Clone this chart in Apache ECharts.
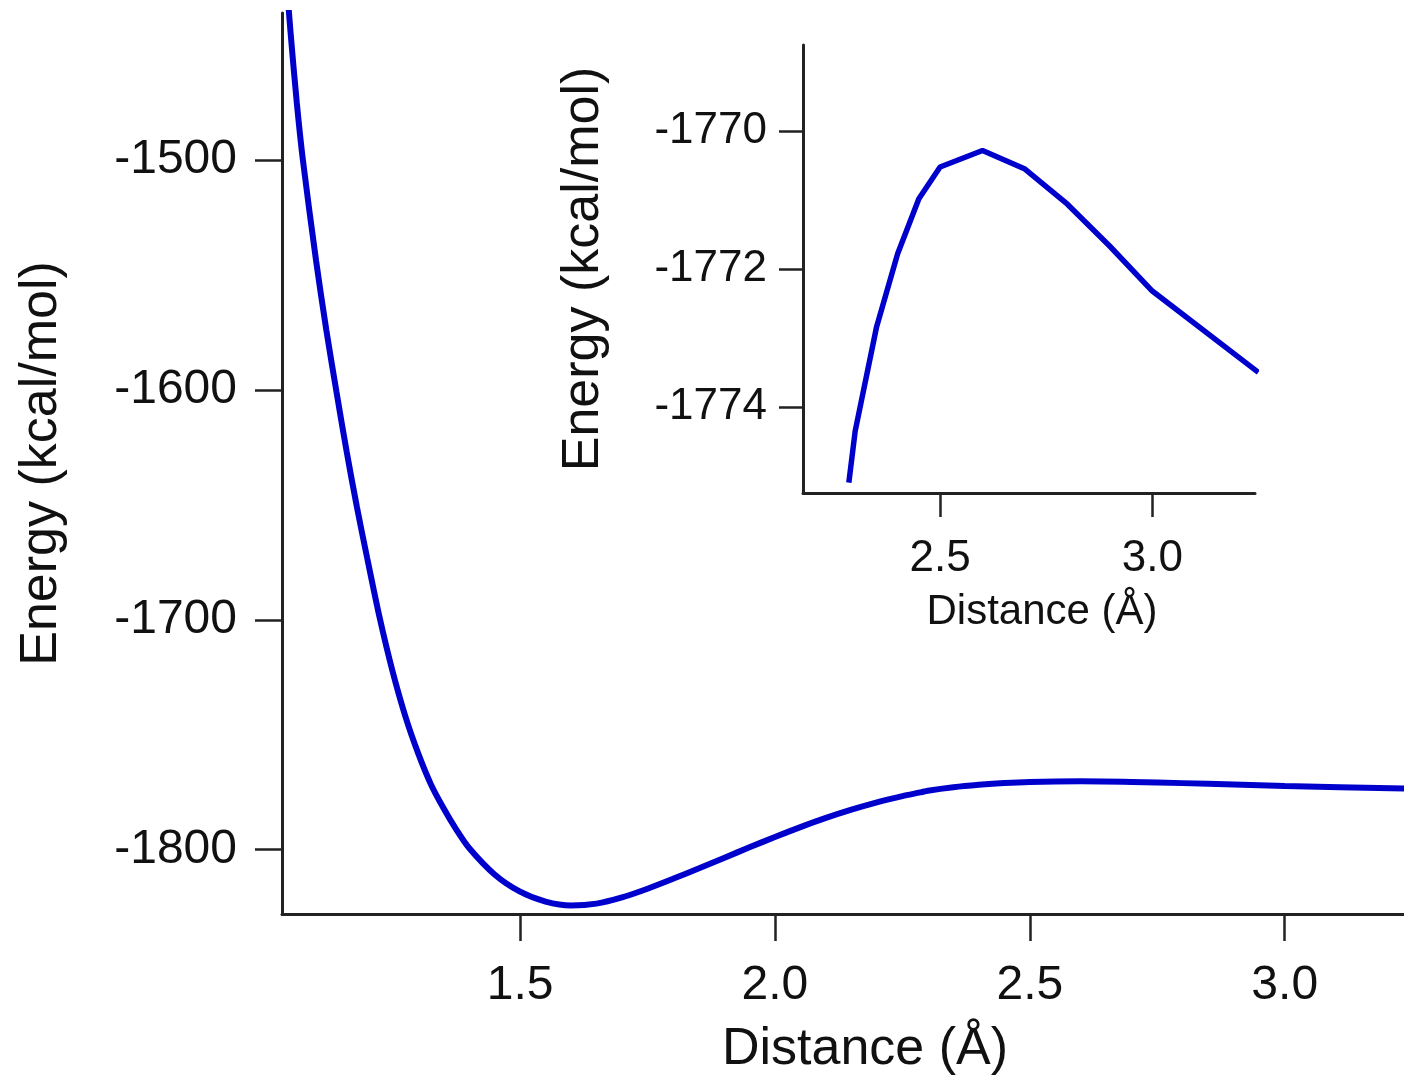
<!DOCTYPE html>
<html>
<head>
<meta charset="UTF-8">
<title>Energy vs distance</title>
<script src="https://cdn.jsdelivr.net/npm/echarts@6/dist/echarts.min.js"></script>
<style>
  html, body { margin: 0; padding: 0; background: #fff; }
  #chart { width: 1404px; height: 1081px; }
</style>
</head>
<body>
<div id="chart"></div>
<script>
// distance (Å) and energy (kcal/mol)
var distance = [1.045, 1.05, 1.062, 1.074, 1.10, 1.12, 1.14, 1.16, 1.18, 1.20, 1.225, 1.25, 1.275, 1.30,
  1.325, 1.35, 1.375, 1.40, 1.45, 1.50, 1.55, 1.60, 1.65, 1.70, 1.75, 1.80, 1.85, 1.90, 1.95, 2.00,
  2.05, 2.10, 2.15, 2.20, 2.25, 2.285, 2.30, 2.35, 2.40, 2.45, 2.50, 2.60, 2.70, 2.80, 2.90, 3.00, 3.25];
var energy = [-1431, -1445, -1475, -1500, -1544, -1574, -1601, -1627, -1651, -1673, -1699.5, -1722.5, -1742, -1758,
  -1771.5, -1782, -1791.3, -1799.3, -1810.8, -1818.3, -1822.6, -1824.3, -1823.5, -1820.8, -1817, -1812.7, -1808.2, -1803.6, -1799, -1794.5,
  -1790.2, -1786.2, -1782.6, -1779.4, -1776.7, -1775.1, -1774.35, -1772.85, -1771.78, -1770.98, -1770.52, -1770.28, -1770.55, -1771.06, -1771.67, -1772.32, -1773.5];

// inset shows the barrier region only
var insetStart = 2.28;

var mainXTicks = [1.5, 2.0, 2.5, 3.0];
var mainYTicks = [-1800, -1700, -1600, -1500];
var insetXTicks = [2.5, 3.0];
var insetYTicks = [-1774, -1772, -1770];

var mainData = distance.map(function (d, i) { return [d, energy[i]]; });
var insetData = mainData.filter(function (p) { return p[0] >= insetStart; });

var font = 'Liberation Sans, Arial, Helvetica, sans-serif';
var ink = '#111';
var axisColor = '#222';
var blue = '#0000cd';

function axisBase(o) {
  return {
    type: 'value',
    gridIndex: o.grid,
    min: o.min,
    max: o.max,
    name: o.name,
    nameLocation: 'middle',
    nameGap: o.nameGap,
    nameTextStyle: { fontFamily: font, fontSize: o.nameSize, color: ink, padding: o.namePad || 0 },
    splitLine: { show: false },
    axisLine: { show: true, onZero: false, lineStyle: { color: axisColor, width: 3 } },
    axisTick: { show: true, inside: false, length: o.tickLen, customValues: o.ticks,
      lineStyle: { color: axisColor, width: 2.5 } },
    axisLabel: { show: true, customValues: o.ticks, margin: o.labelMargin,
      fontFamily: font, fontSize: o.labelSize, color: ink,
      formatter: o.fmt },
    axisPointer: { show: false }
  };
}

var fmt1 = function (v) { return v.toFixed(1); };
var fmt0 = function (v) { return String(v); };

var chart = echarts.init(document.getElementById('chart'));

chart.setOption({
  animation: false,
  backgroundColor: '#fff',
  grid: [
    { left: 282, top: 13, right: 0, bottom: 161 },
    { left: 803, top: 45, width: 452, height: 448 }
  ],
  xAxis: [
    axisBase({ grid: 0, min: 1.033, max: 3.234, name: 'Distance (Å)', nameGap: 110, nameSize: 52,
      namePad: [0, 0, 0, 44], ticks: mainXTicks, tickLen: 27, labelMargin: 48, labelSize: 48, fmt: fmt1 }),
    axisBase({ grid: 1, min: 2.177, max: 3.242, name: 'Distance (Å)', nameGap: 98, nameSize: 42,
      namePad: [0, 0, 0, 26], ticks: insetXTicks, tickLen: 24, labelMargin: 44, labelSize: 44, fmt: fmt1 })
  ],
  yAxis: [
    axisBase({ grid: 0, min: -1828, max: -1436, name: 'Energy (kcal/mol)', nameGap: 214, nameSize: 52,
      ticks: mainYTicks, tickLen: 27, labelMargin: 45, labelSize: 48, fmt: fmt0 }),
    axisBase({ grid: 1, min: -1775.25, max: -1768.75, name: 'Energy (kcal/mol)', nameGap: 193, nameSize: 52,
      ticks: insetYTicks, tickLen: 24, labelMargin: 36, labelSize: 44, fmt: fmt0 })
  ],
  series: [
    {
      type: 'line',
      xAxisIndex: 0,
      yAxisIndex: 0,
      data: mainData,
      smooth: 0.3,
      showSymbol: false,
      clip: true,
      lineStyle: { color: blue, width: 6 }
    },
    {
      type: 'line',
      xAxisIndex: 1,
      yAxisIndex: 1,
      data: insetData,
      smooth: false,
      showSymbol: false,
      clip: true,
      lineStyle: { color: blue, width: 5.5 }
    }
  ]
});
</script>
</body>
</html>
